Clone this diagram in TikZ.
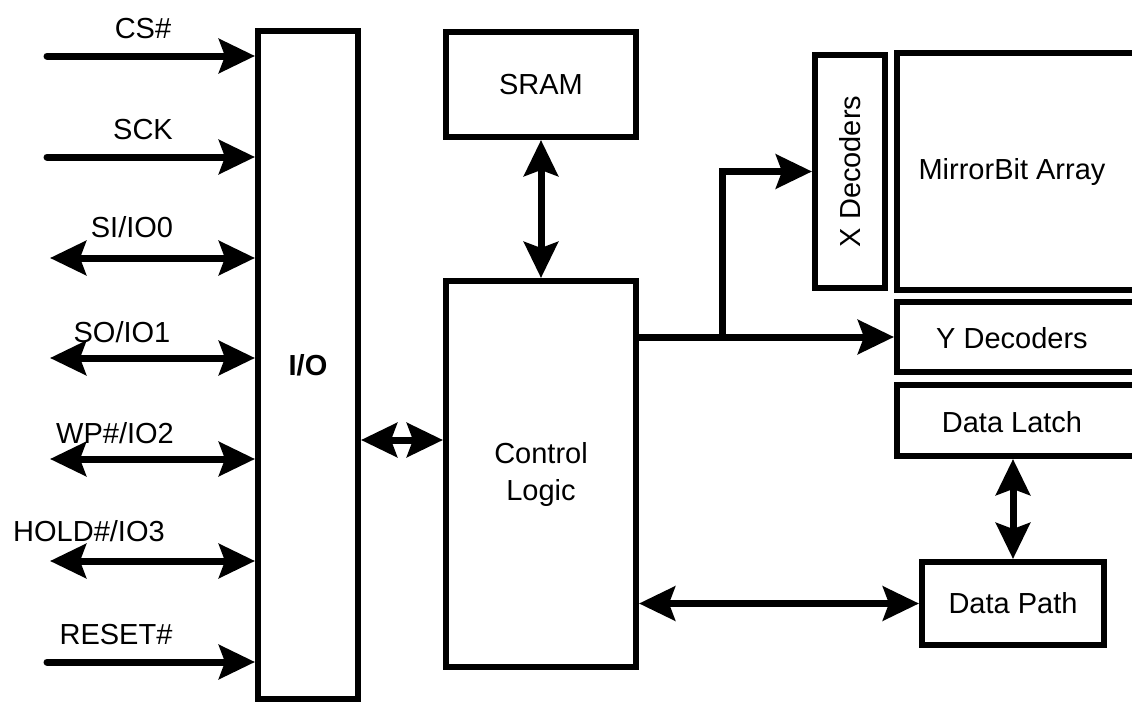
\documentclass[tikz,border=0pt]{standalone}
\usepackage{fontspec}
\setmainfont{Liberation Sans}
\usetikzlibrary{arrows.meta, positioning, calc}

\begin{document}
\begin{tikzpicture}[
    x=0.5pt, y=-0.5pt,
    >={Stealth[length=18pt, width=17pt, inset=3pt]},
    every node/.style={font=\fontsize{14.5}{18.5}\selectfont},
    blk/.style={draw, line width=3pt, inner sep=0pt},
    sig/.style={line width=3.5pt, line cap=round},
    lbl/.style={inner sep=0pt}
  ]
  \clip (0,0) rectangle (1132,702);

  % blocks
  \node[blk, minimum width=50pt, minimum height=334pt,
        font=\fontsize{14.5}{18.5}\selectfont\bfseries] (io) at (308,365) {I/O};
  \node[blk, minimum width=95pt, minimum height=52.5pt] (sram) at (541,84.5) {SRAM};
  \node[blk, minimum width=95pt, minimum height=193pt, align=center] (ctrl) at (541,474) {Control\\Logic};
  \node[blk, minimum width=35pt, minimum height=116.5pt] (xdec) at (850,171.5) {};
  \node[lbl, rotate=90] (xdectxt) at (xdec) {X Decoders};
  \node[blk, minimum width=121.5pt, minimum height=118.5pt] (array) at (1018.5,171.5) {};
  \node[lbl] (arraytxt) at (1012,172) {MirrorBit Array};
  \node[blk, minimum width=121.5pt, minimum height=35pt] (ydec) at (1018.5,337) {};
  \node[lbl] (ydectxt) at (1012,338) {Y Decoders};
  \node[blk, minimum width=121.5pt, minimum height=35.5pt] (latch) at (1018.5,420.5) {};
  \node[lbl] (latchtxt) at (1012,422) {Data Latch};
  \node[blk, minimum width=91pt, minimum height=41.5pt] (dpath) at (1013,603.5) {Data Path};

  % pins
  \coordinate (cs) at (47,56);
  \coordinate (sck) at (47,157);
  \coordinate (si) at (50,258);
  \coordinate (so) at (50,358);
  \coordinate (wp) at (50,459);
  \coordinate (hold) at (50,561);
  \coordinate (reset) at (47,662);

  \draw[sig, ->] (cs) -- (cs -| io.west);
  \draw[sig, ->] (sck) -- (sck -| io.west);
  \draw[sig, <->] (si) -- (si -| io.west);
  \draw[sig, <->] (so) -- (so -| io.west);
  \draw[sig, <->] (wp) -- (wp -| io.west);
  \draw[sig, <->] (hold) -- (hold -| io.west);
  \draw[sig, ->] (reset) -- (reset -| io.west);

  \node[lbl] (cslbl) at (143,29) {CS\#};
  \node[lbl] (scklbl) at (143,130) {SCK};
  \node[lbl] (silbl) at (132,227) {SI/IO0};
  \node[lbl] (solbl) at (122,332) {SO/IO1};
  \node[lbl] (wplbl) at (115,433) {WP\#/IO2};
  \node[lbl] (holdlbl) at (89,531) {HOLD\#/IO3};
  \node[lbl] (resetlbl) at (116,635) {RESET\#};

  % internal buses
  \coordinate (iobus) at (400,440);
  \coordinate (split) at (722,337);
  \draw[sig, <->] (io.east |- iobus) -- (ctrl.west |- iobus);
  \draw[sig, <->] (sram) -- (ctrl);
  \draw[sig, ->] (split -| ctrl.east) -- (ydec.west);
  \draw[sig, ->] (split) |- (xdec.west);
  \draw[sig, <->] (latch.south -| dpath.north) -- (dpath.north);
  \draw[sig, <->] (dpath.west -| ctrl.east) -- (dpath.west);
\end{tikzpicture}
\end{document}
